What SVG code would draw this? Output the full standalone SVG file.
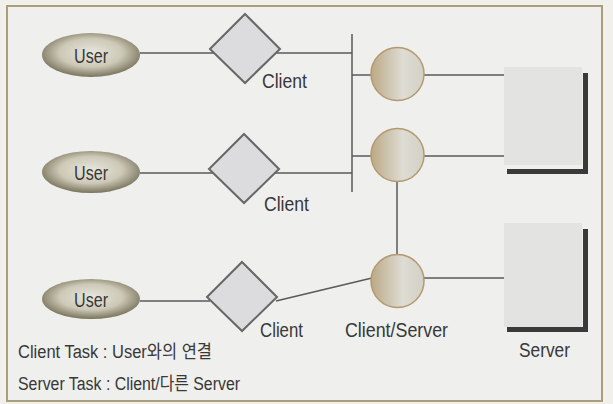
<svg xmlns="http://www.w3.org/2000/svg" width="613" height="404" viewBox="0 0 613 404">
<defs>
<radialGradient id="userG" cx="50%" cy="45%" r="58%">
<stop offset="0" stop-color="#e8e6de"/>
<stop offset="0.55" stop-color="#cdc9b7"/>
<stop offset="1" stop-color="#6f6951"/>
</radialGradient>
<linearGradient id="csG" x1="0" y1="0" x2="1" y2="0">
<stop offset="0" stop-color="#bca985"/>
<stop offset="0.6" stop-color="#dedcd3"/>
<stop offset="1" stop-color="#d3d0c4"/>
</linearGradient>
<style>
.ln{stroke:#5a5a5a;stroke-width:1.5;fill:none}
.user{fill:url(#userG)}
.dia{fill:#dcdcdf;stroke:#676767;stroke-width:2}
.cs{fill:url(#csG);stroke:#b49a72;stroke-width:1.5}
.box{fill:#e3e3e1}
.sh{fill:none;stroke:#3a3a3a;stroke-width:5}
text{font-family:"Liberation Sans","Noto Sans CJK KR",sans-serif;fill:#383838}
.t{font-size:21px}
.b{font-size:18px}
</style>
</defs>
<rect x="0" y="0" width="613" height="404" fill="#f1f0ea"/>
<rect x="7" y="6" width="595" height="395" fill="#efefed" stroke="#a99f7c" stroke-width="2"/>
<g id="connectors">
<line class="ln" x1="140" y1="53" x2="352" y2="53"/>
<line class="ln" x1="140" y1="173" x2="352" y2="173"/>
<line class="ln" x1="352" y1="34" x2="352" y2="192"/>
<line class="ln" x1="352" y1="75" x2="371" y2="75"/>
<line class="ln" x1="352" y1="156" x2="371" y2="156"/>
<line class="ln" x1="424" y1="75" x2="504" y2="75"/>
<line class="ln" x1="424" y1="156" x2="504" y2="156"/>
<line class="ln" x1="397" y1="182" x2="397" y2="254"/>
<line class="ln" x1="140" y1="301" x2="210" y2="301"/>
<line class="ln" x1="276" y1="301" x2="372" y2="278"/>
<line class="ln" x1="424" y1="278" x2="504" y2="278"/>
</g>
<g id="user1"><ellipse class="user" cx="91" cy="55" rx="49" ry="22"/><text class="t" x="91" y="63" text-anchor="middle" textLength="34" lengthAdjust="spacingAndGlyphs">User</text></g>
<g id="user2"><ellipse class="user" cx="91" cy="172" rx="49" ry="21"/><text class="t" x="91" y="180" text-anchor="middle" textLength="34" lengthAdjust="spacingAndGlyphs">User</text></g>
<g id="user3"><ellipse class="user" cx="91" cy="299" rx="49" ry="20"/><text class="t" x="91" y="307" text-anchor="middle" textLength="34" lengthAdjust="spacingAndGlyphs">User</text></g>
<g id="client1"><polygon class="dia" points="245,14 280,49 245,83 210,49"/><text class="t" x="262" y="88" textLength="45" lengthAdjust="spacingAndGlyphs">Client</text></g>
<g id="client2"><polygon class="dia" points="244,134 279,169 244,203 209,169"/><text class="t" x="264" y="211" textLength="45" lengthAdjust="spacingAndGlyphs">Client</text></g>
<g id="client3"><polygon class="dia" points="242,262 277,297 242,331 207,297"/><text class="t" x="260" y="337" textLength="43" lengthAdjust="spacingAndGlyphs">Client</text></g>
<g id="cs1"><circle class="cs" cx="397.5" cy="74" r="26.5"/></g>
<g id="cs2"><circle class="cs" cx="397.5" cy="155" r="26.5"/></g>
<g id="cs3"><circle class="cs" cx="397.5" cy="281" r="26.5"/><text class="t" x="345" y="337" textLength="103" lengthAdjust="spacingAndGlyphs">Client/Server</text></g>
<g id="server1"><rect class="box" x="504" y="67" width="78" height="98"/><polyline class="sh" points="585.5,73 585.5,171.5 507,171.5"/></g>
<g id="server2"><rect class="box" x="504" y="223" width="78" height="104"/><polyline class="sh" points="585.5,229 585.5,329.5 507,329.5"/><text class="t" x="519" y="357" textLength="51" lengthAdjust="spacingAndGlyphs">Server</text></g>
<g id="legend">
<text class="b" x="18" y="358" textLength="194" lengthAdjust="spacingAndGlyphs">Client Task : User와의 연결</text>
<text class="b" x="18" y="390" textLength="222" lengthAdjust="spacingAndGlyphs">Server Task : Client/다른 Server</text>
</g>
</svg>
